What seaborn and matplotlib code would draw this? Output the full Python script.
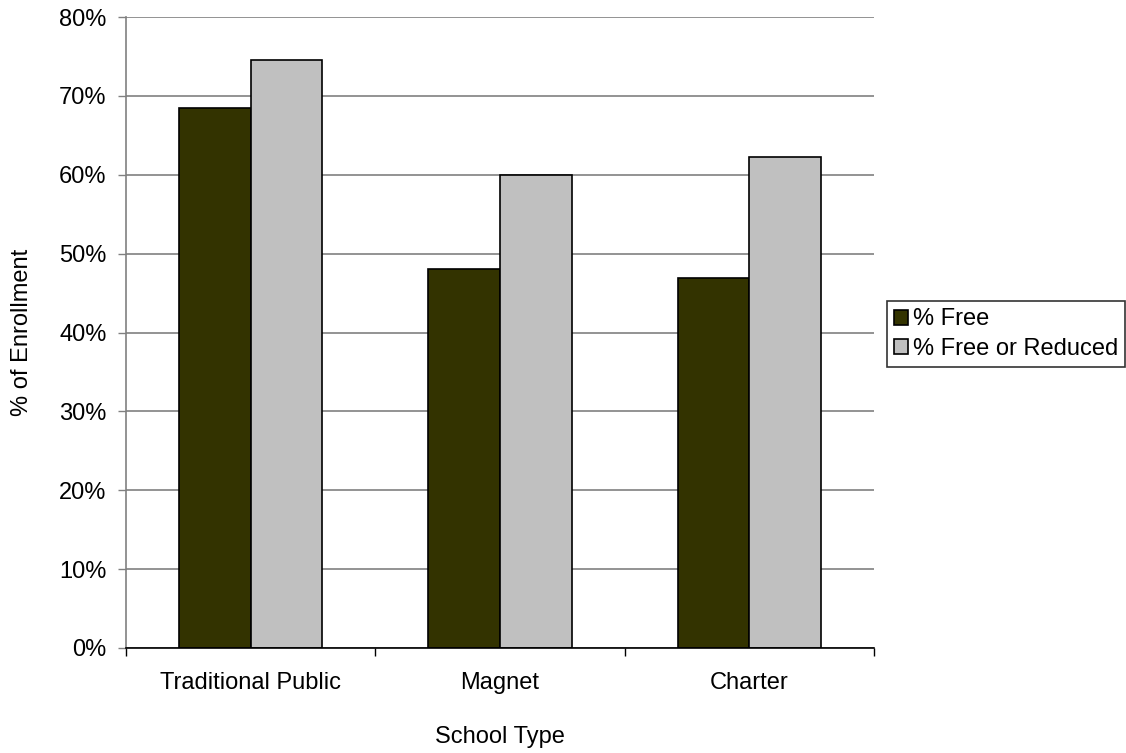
import pandas as pd
import matplotlib.pyplot as plt
import seaborn as sns
from matplotlib.ticker import PercentFormatter, FixedLocator

# ==================== data ====================
school_types = ["Traditional Public", "Magnet", "Charter"]
pct_free = [68.4, 48.0, 46.9]
pct_free_or_reduced = [74.6, 60.0, 62.3]
series_names = ["% Free", "% Free or Reduced"]

df = pd.DataFrame({
    "School Type": school_types * 2,
    "Value": pct_free + pct_free_or_reduced,
    "Series": [series_names[0]] * 3 + [series_names[1]] * 3,
})

# ==================== style ====================
sns.set_style("white")
plt.rcParams["font.family"] = ["Liberation Sans", "DejaVu Sans"]
plt.rcParams["text.color"] = "black"
plt.rcParams["axes.labelcolor"] = "black"
plt.rcParams["xtick.labelcolor"] = "black"
plt.rcParams["ytick.labelcolor"] = "black"
FS = 17

fig = plt.figure(figsize=(11.26, 7.53), dpi=100)
ax = fig.add_axes([126 / 1126, 1 - 648 / 753, 748 / 1126, 631 / 753])

sns.barplot(
    data=df, x="School Type", y="Value", hue="Series",
    palette=["#333300", "#C0C0C0"], width=0.574,
    edgecolor="black", linewidth=1.2, saturation=1, ax=ax,
)

ax.set_ylim(0, 80)
ax.set_xlim(-0.5, 2.5)
ax.set_yticks(range(0, 81, 10))
ax.yaxis.set_major_formatter(PercentFormatter(decimals=0))
ax.yaxis.grid(True, color="#808080", linewidth=1.2)
ax.set_axisbelow(True)

# category boundary ticks on x axis
ax.xaxis.set_minor_locator(FixedLocator([-0.5, 0.5, 1.5, 2.5]))
ax.tick_params(axis="x", which="major", length=0, pad=17, labelsize=FS)
ax.tick_params(axis="x", which="minor", length=6, width=1, color="black", direction="out")
ax.tick_params(axis="y", length=6, width=1, color="#808080", direction="out", pad=8, labelsize=FS)
ax.tick_params(bottom=True, left=True, which="both")

for s in ["top", "right"]:
    ax.spines[s].set_visible(False)
ax.spines["left"].set_color("#808080")
ax.spines["left"].set_linewidth(1.2)
ax.spines["bottom"].set_color("black")
ax.spines["bottom"].set_linewidth(1.2)

ax.set_xlabel("School Type", fontsize=FS)
ax.set_ylabel("% of Enrollment", fontsize=FS)
ax.xaxis.set_label_coords(0.5, -(737 - 648) / 631, transform=ax.transAxes)
ax.xaxis.label.set_va("center")
ax.yaxis.set_label_coords(-(126 - 22) / 748, 0.5, transform=ax.transAxes)
ax.yaxis.label.set_va("center")

ax.get_legend().remove()
handles, labels = ax.get_legend_handles_labels()
leg = fig.legend(
    handles, labels, loc="center left",
    bbox_to_anchor=(887 / 1126, 1 - 334 / 753),
    frameon=True, fancybox=False, edgecolor="black", fontsize=FS,
    handlelength=0.6, handleheight=0.6, handletextpad=0.2,
    borderpad=0.3, labelspacing=0.3, borderaxespad=0,
)
leg.get_frame().set_linewidth(1.2)

plt.savefig("out.png", dpi=100)
plt.close()
